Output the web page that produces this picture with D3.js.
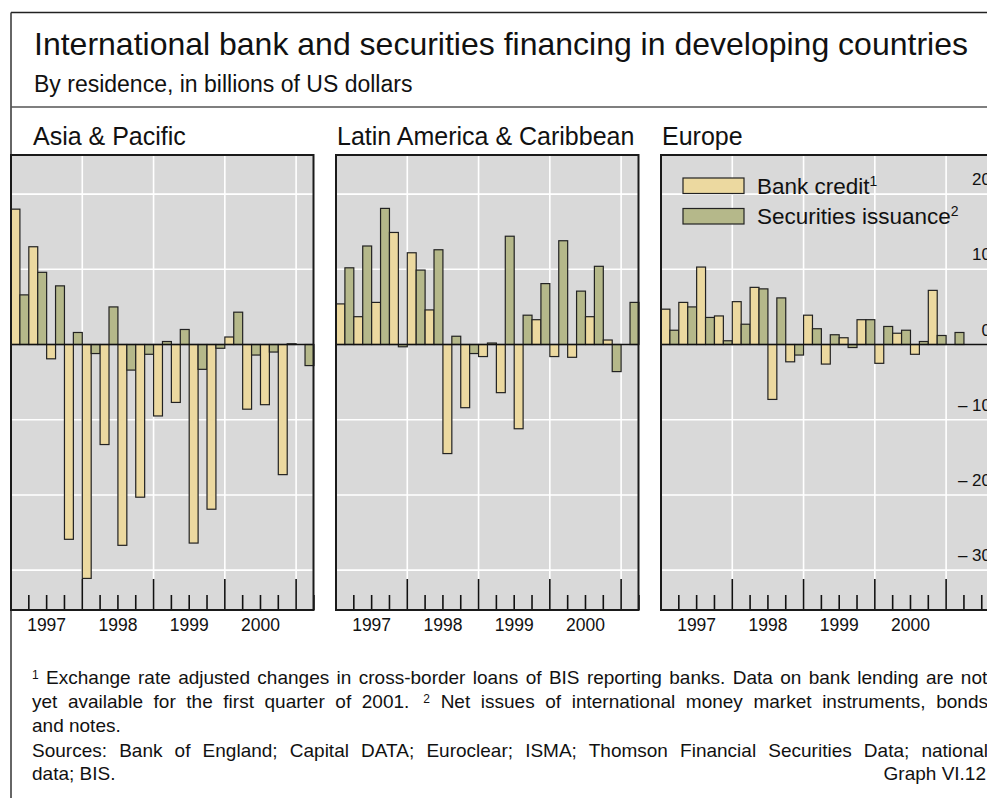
<!DOCTYPE html>
<html>
<head>
<meta charset="utf-8">
<title>International bank and securities financing in developing countries</title>
<script src="https://d3js.org/d3.v7.min.js"></script>
<style>
body {margin:0; background:white;}
svg {display:block; font-family:"Liberation Sans", Arial, Helvetica, sans-serif; fill:#111;}
</style>
</head>
<body>
<svg id="chart" width="987" height="798"></svg>
<script>
// quarterly data, 1997 Q1 to 2001 Q1, billions of US dollars
var quarters = ["1997Q1","1997Q2","1997Q3","1997Q4","1998Q1","1998Q2","1998Q3","1998Q4",
                "1999Q1","1999Q2","1999Q3","1999Q4","2000Q1","2000Q2","2000Q3","2000Q4","2001Q1"];
var years = ["1997", "1998", "1999", "2000"];
var regions = ["Asia & Pacific", "Latin America & Caribbean", "Europe"];
var series = ["Bank credit", "Securities issuance"];

// bank credit has no value yet for 2001 Q1
var asiaBank   = [18.0, 13.0, -1.9, -25.9, -31.1, -13.3, -26.7, -20.3, -9.5, -7.7, -26.4, -21.9, 1.0, -8.6, -8.0, -17.3, null];
var asiaSec    = [6.6, 9.6, 7.8, 1.6, -1.2, 5.0, -3.4, -1.3, 0.4, 2.0, -3.3, -0.5, 4.3, -1.4, -1.0, 0.1, -2.8];
var latamBank  = [5.4, 3.7, 5.6, 14.9, 12.2, 4.6, -14.5, -8.4, -1.6, -6.4, -11.2, 3.3, -1.6, -1.7, 3.7, 0.6, null];
var latamSec   = [10.2, 13.1, 18.1, -0.3, 9.9, 12.6, 1.1, -1.2, 0.2, 14.4, 3.9, 8.1, 13.8, 7.1, 10.4, -3.6, 5.6];
var europeBank = [4.7, 5.6, 10.3, 3.8, 5.7, 7.6, -7.3, -2.3, 3.9, -2.6, 0.9, 3.3, -2.5, 1.5, -1.3, 7.2, null];
var europeSec  = [1.9, 5.0, 3.6, 0.5, 2.7, 7.4, 6.2, -1.4, 2.1, 1.3, -0.4, 3.3, 2.4, 1.9, 0.4, 1.2, 1.6];

var yTicks = [20, 10, 0, -10, -20, -30];
var gridValues = [20, 10, -10, -20, -30];

var bankData = [asiaBank, latamBank, europeBank];
var secData = [asiaSec, latamSec, europeSec];

var svg = d3.select("#chart");
var colors = {"Bank credit": "#ecd9a0", "Securities issuance": "#b5b88a"};

var plotTop = 155, plotBottom = 610;
var qStep = 17.82;
var panelLeft = [11, 336, 661];
var panelWidth = [302.5, 302.5, 350];
var titleX = [33, 337, 662];

var y = d3.scaleLinear().domain([-35.3, 25.2]).range([plotBottom, plotTop]);

// outer frame
svg.append("line").attr("x1", 11).attr("x2", 987).attr("y1", 12.5).attr("y2", 12.5)
  .attr("stroke", "#222").attr("stroke-width", 1.5);
svg.append("line").attr("x1", 11).attr("x2", 11).attr("y1", 12.5).attr("y2", 798)
  .attr("stroke", "#333").attr("stroke-width", 1.5);
svg.append("line").attr("x1", 11).attr("x2", 987).attr("y1", 107).attr("y2", 107)
  .attr("stroke", "#555").attr("stroke-width", 1.5);

svg.append("text").attr("x", 34).attr("y", 55).style("font-size", "32px")
  .text("International bank and securities financing in developing countries");
svg.append("text").attr("x", 34).attr("y", 91.5).style("font-size", "23px")
  .text("By residence, in billions of US dollars");

regions.forEach(function(name, i) {
  var w = panelWidth[i];
  var nq = Math.round(w / qStep) + 1;
  var x = d3.scaleBand().domain(quarters).range([0, quarters.length * qStep]).padding(0);
  var sub = d3.scaleBand().domain(series).range([0, x.bandwidth()]);
  var qx = d3.scaleLinear().domain([0, quarters.length]).range([0, quarters.length * qStep]);

  svg.append("text").attr("x", titleX[i]).attr("y", 145).style("font-size", "25px").text(name);

  var g = svg.append("g").attr("transform", "translate(" + panelLeft[i] + ",0)");

  g.append("rect").attr("x", 0).attr("y", plotTop).attr("width", w).attr("height", plotBottom - plotTop)
    .attr("fill", "#d9d9d9");

  // white grid
  g.selectAll(".hgrid").data(gridValues).enter().append("line")
    .attr("x1", 0).attr("x2", w)
    .attr("y1", function(d) { return y(d); }).attr("y2", function(d) { return y(d); })
    .attr("stroke", "white").attr("stroke-width", 1.6);
  g.selectAll(".vgrid").data(d3.range(4, nq, 4)).enter().append("line")
    .attr("x1", function(d) { return qx(d); }).attr("x2", function(d) { return qx(d); })
    .attr("y1", plotTop).attr("y2", plotBottom)
    .attr("stroke", "white").attr("stroke-width", 1.6);

  var rows = [];
  quarters.forEach(function(q, k) {
    if (bankData[i][k] != null) rows.push({q: q, s: series[0], v: bankData[i][k]});
    if (secData[i][k] != null) rows.push({q: q, s: series[1], v: secData[i][k]});
  });

  g.selectAll(".bar").data(rows).enter().append("rect")
    .attr("x", function(d) { return x(d.q) + sub(d.s); })
    .attr("width", sub.bandwidth())
    .attr("y", function(d) { return y(Math.max(0, d.v)); })
    .attr("height", function(d) { return Math.abs(y(d.v) - y(0)); })
    .attr("fill", function(d) { return colors[d.s]; })
    .attr("stroke", "#222").attr("stroke-width", 1.2);

  g.append("line").attr("x1", 0).attr("x2", w).attr("y1", y(0)).attr("y2", y(0))
    .attr("stroke", "#111").attr("stroke-width", 1.6);

  // quarter ticks, longer at the start of each year
  g.selectAll(".tick").data(d3.range(1, nq)).enter().append("line")
    .attr("x1", function(d) { return qx(d); }).attr("x2", function(d) { return qx(d); })
    .attr("y1", function(d) { return d % 4 == 0 ? plotBottom - 31 : plotBottom - 15; })
    .attr("y2", plotBottom)
    .attr("stroke", "#111").attr("stroke-width", 1.6);

  g.append("rect").attr("x", 0).attr("y", plotTop).attr("width", w).attr("height", plotBottom - plotTop)
    .attr("fill", "none").attr("stroke", "#1a1a1a").attr("stroke-width", 2);

  g.selectAll(".year").data(years).enter().append("text")
    .attr("x", function(d, j) { return qx(j * 4 + 2); })
    .attr("y", 631)
    .attr("text-anchor", "middle")
    .style("font-size", "17.5px")
    .text(function(d) { return d; });

  if (i == 2) {
    g.selectAll(".ylab").data(yTicks).enter().append("text")
      .attr("x", 991 - panelLeft[i])
      .attr("y", function(d) { return y(d) - 9; })
      .attr("text-anchor", "end")
      .style("font-size", "17px")
      .text(function(d) { return d < 0 ? "\u2013 " + Math.abs(d) : d; });

    var leg = g.selectAll(".legend").data(series).enter().append("g")
      .attr("transform", function(d, j) { return "translate(22," + (178 + j * 30.5) + ")"; });
    leg.append("rect").attr("width", 61).attr("height", 15.5)
      .attr("fill", function(d) { return colors[d]; })
      .attr("stroke", "#222").attr("stroke-width", 1.2);
    var lt = leg.append("text").attr("x", 74).attr("y", 15.5).style("font-size", "22.5px");
    lt.append("tspan").text(function(d) { return d; });
    lt.append("tspan").attr("dy", -8).style("font-size", "14px")
      .text(function(d, j) { return j + 1; });
  }
});

// footnotes, justified to the right edge
function justify(sel, right) {
  var n = sel.text().split(" ").length - 1;
  var b = sel.node().getBBox();
  sel.style("word-spacing", ((right - b.x - b.width) / n) + "px");
}

var f1 = svg.append("text").attr("x", 32).attr("y", 684).style("font-size", "19px");
f1.append("tspan").attr("dy", -5).style("font-size", "12px").text("1");
f1.append("tspan").attr("dy", 5)
  .text(" Exchange rate adjusted changes in cross-border loans of BIS reporting banks. Data on bank lending are not");
justify(f1, 988);

var f2 = svg.append("text").attr("x", 32).attr("y", 708).style("font-size", "19px");
f2.append("tspan").text("yet available for the first quarter of 2001.");
f2.append("tspan").attr("dx", 14).attr("dy", -5).style("font-size", "12px").text("2");
f2.append("tspan").attr("dy", 5).text(" Net issues of international money market instruments, bonds");
justify(f2, 988);

svg.append("text").attr("x", 32).attr("y", 732).style("font-size", "19px").text("and notes.");

var f4 = svg.append("text").attr("x", 32).attr("y", 757).style("font-size", "19px")
  .text("Sources: Bank of England; Capital DATA; Euroclear; ISMA; Thomson Financial Securities Data; national");
justify(f4, 988);

svg.append("text").attr("x", 32).attr("y", 780).style("font-size", "19px").text("data; BIS.");
svg.append("text").attr("x", 986).attr("y", 780).attr("text-anchor", "end").style("font-size", "19px")
  .text("Graph VI.12");
</script>
</body>
</html>
